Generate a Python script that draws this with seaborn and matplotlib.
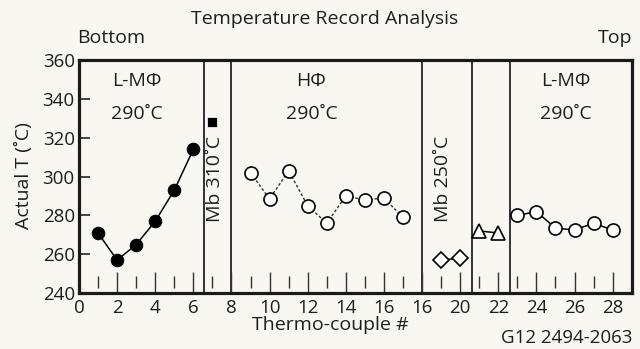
"""
Thermocouple temperature record, split into sections along the column.
"""

import matplotlib
matplotlib.use('Agg')
import matplotlib.pyplot as plt
import seaborn as sns
import pandas as pd

# L-MPhi bottom section (filled circles)
tc_low = [1, 2, 3, 4, 5, 6]
t_low = [271, 257, 265, 277, 293, 314]

# Mb 310 section (filled square)
tc_mb310 = [7]
t_mb310 = [328]

# HPhi section (open circles, dotted)
tc_high = [9, 10, 11, 12, 13, 14, 15, 16, 17]
t_high = [302, 288.5, 303, 285, 276, 290, 288, 289, 279]

# Mb 250 section (diamonds)
tc_mb250 = [19, 20]
t_mb250 = [257, 258]

# triangles section
tc_tri = [21, 22]
t_tri = [272, 271]

# L-MPhi top section (open circles)
tc_top = [23, 24, 25, 26, 27, 28]
t_top = [280, 282, 273.5, 272.5, 276, 272.5]

# section borders and labels
dividers = [6.55, 8.0, 18.0, 20.6, 22.6]
xtick_pos = [0, 2, 4, 6, 8, 10, 12, 14, 16, 18, 20, 22, 24, 26, 28]
xtick_labels = ['0', '2', '4', '6', '8', '10', '12', '14', '16', '16', '20', '22', '24', '26', '28']
yticks = [240, 260, 280, 300, 320, 340, 360]

bg = '#f8f7f1'
ink = '#1e1e1e'
sns.set_style('white')
plt.rcParams['font.family'] = ['Open Sans', 'DejaVu Sans']

fig, ax = plt.subplots(figsize=(6.4, 3.49), dpi=100)
fig.patch.set_facecolor(bg)
ax.set_facecolor(bg)
fig.subplots_adjust(left=0.1234, right=0.987, top=0.828, bottom=0.160)

# small inner ticks along the bottom
for x in range(1, 29):
    if x % 2 == 0:
        ax.vlines(x, 240.8, 251.0, color='#333333', linewidth=1)
    else:
        ax.vlines(x, 242.6, 248.6, color='#333333', linewidth=1)

for d in dividers:
    ax.axvline(d, color='#333333', linewidth=1.4)

sns.lineplot(x=tc_low, y=t_low, ax=ax, color='black', linewidth=1.1,
             marker='o', markersize=9, markerfacecolor='black', markeredgecolor='black')
sns.scatterplot(x=tc_mb310, y=t_mb310, ax=ax, marker='s', s=42, color='black')
sns.lineplot(x=tc_high, y=t_high, ax=ax, color='#333333', linewidth=1.0, linestyle=(0, (2, 1.5)),
             marker='o', markersize=9.4, markerfacecolor='white', markeredgecolor='black', markeredgewidth=1.2)
sns.lineplot(x=tc_mb250, y=t_mb250, ax=ax, color='black', linewidth=1.1,
             marker='D', markersize=8.2, markerfacecolor='white', markeredgecolor='black', markeredgewidth=1.2)
sns.lineplot(x=tc_tri, y=t_tri, ax=ax, color='black', linewidth=1.1,
             marker='^', markersize=9.5, markerfacecolor='white', markeredgecolor='black', markeredgewidth=1.2)
sns.lineplot(x=tc_top, y=t_top, ax=ax, color='black', linewidth=1.1,
             marker='o', markersize=9.4, markerfacecolor='white', markeredgecolor='black', markeredgewidth=1.2)

# section labels
fs = 14
ax.text(3.05, 349, 'L-MΦ', ha='center', va='center', fontsize=fs, color=ink)
ax.text(3.05, 332, '290˚C', ha='center', va='center', fontsize=fs, color=ink)
ax.text(12.2, 349, 'HΦ', ha='center', va='center', fontsize=fs, color=ink)
ax.text(12.2, 332, '290˚C', ha='center', va='center', fontsize=fs, color=ink)
ax.text(25.55, 349, 'L-MΦ', ha='center', va='center', fontsize=fs, color=ink)
ax.text(25.55, 332, '290˚C', ha='center', va='center', fontsize=fs, color=ink)
ax.text(7.15, 299, 'Mb 310˚C', ha='center', va='center', rotation=90, fontsize=fs, color=ink)
ax.text(19.1, 299, 'Mb 250˚C', ha='center', va='center', rotation=90, fontsize=fs, color=ink)

ax.set_xlim(0, 29)
ax.set_ylim(240, 360)
ax.set_xticks(xtick_pos)
ax.set_xticklabels(xtick_labels, fontsize=13.5, color=ink)
ax.set_yticks(yticks)
ax.set_yticklabels([str(v) for v in yticks], fontsize=13.5, color=ink)
ax.tick_params(axis='x', length=0, pad=4.5)
ax.tick_params(axis='y', direction='in', length=8, width=1.2, pad=3, left=True)

for side in ['left', 'bottom', 'top', 'right']:
    ax.spines[side].set_color('#1a1a1a')
    ax.spines[side].set_linewidth(2.3)

ax.set_xlabel('Thermo-couple #', fontsize=fs, color=ink)
ax.xaxis.set_label_coords(0.454, -0.1)
ax.set_ylabel('Actual T (˚C)', fontsize=fs, color=ink)
ax.yaxis.set_label_coords(-0.083, 0.505)

fig.text(0.508, 0.945, 'Temperature Record Analysis', ha='center', va='center', fontsize=fs, color=ink)
fig.text(0.121, 0.89, 'Bottom', ha='left', va='center', fontsize=fs, color=ink)
fig.text(0.988, 0.89, 'Top', ha='right', va='center', fontsize=fs, color=ink)
fig.text(0.988, 0.032, 'G12 2494-2063', ha='right', va='center', fontsize=13.5, color=ink)

plt.savefig('out.png', dpi=100, facecolor=bg)
plt.close()
